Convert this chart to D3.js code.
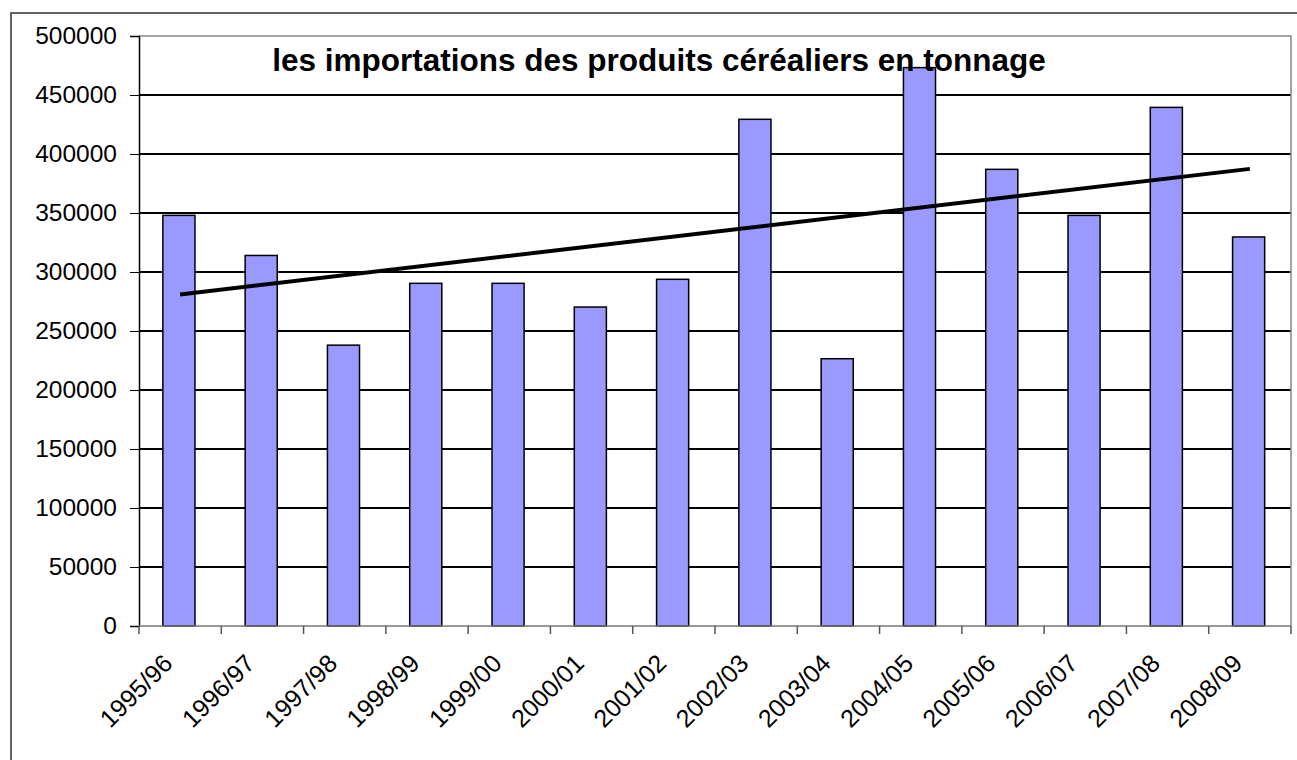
<!DOCTYPE html>
<html>
<head>
<meta charset="utf-8">
<script src="https://cdn.jsdelivr.net/npm/d3@7"></script>
<style>
  body { margin: 0; background: #fff; }
  text { font-family: "Liberation Sans", Arial, sans-serif; }
</style>
</head>
<body>
<div id="canvas"></div>
<script>
// Campagnes (categories de l'axe x)
const campagnes = ["1995/96", "1996/97", "1997/98", "1998/99", "1999/00", "2000/01", "2001/02",
  "2002/03", "2003/04", "2004/05", "2005/06", "2006/07", "2007/08", "2008/09"];

// Importations en tonnes
const importations = [348000, 314000, 238000, 290400, 290400, 270300, 293800,
  429400, 226500, 473200, 387000, 348000, 439500, 329700];

// Graduations de l'axe y
const yTicks = [0, 50000, 100000, 150000, 200000, 250000, 300000, 350000, 400000, 450000, 500000];

const titre = "les importations des produits céréaliers en tonnage";

const data = campagnes.map((c, i) => ({ name: c, value: importations[i] }));

const width = 1297;
const height = 760;
const margin = { top: 36, left: 139, bottom: 134, right: 6 };
const iwidth = width - margin.left - margin.right;
const iheight = height - margin.top - margin.bottom;

const svg = d3.select("#canvas").append("svg")
  .attr("width", width)
  .attr("height", height);

// cadre exterieur
svg.append("rect")
  .attr("x", 11).attr("y", 13)
  .attr("width", 1320).attr("height", 800)
  .attr("fill", "none")
  .attr("stroke", "#333")
  .attr("stroke-width", 1.5);

const g = svg.append("g").attr("transform", `translate(${margin.left}, ${margin.top})`);

const x = d3.scaleBand()
  .domain(campagnes)
  .range([0, iwidth])
  .padding(0);

const y = d3.scaleLinear()
  .domain([0, 500000])
  .range([iheight, 0]);

// lignes de quadrillage
g.selectAll("line.grid")
  .data(yTicks.filter(t => t > 0 && t < 500000))
  .enter().append("line")
  .attr("class", "grid")
  .attr("x1", 0).attr("x2", iwidth)
  .attr("y1", d => y(d)).attr("y2", d => y(d))
  .attr("stroke", "#000")
  .attr("stroke-width", 1.2)
  .attr("shape-rendering", "crispEdges");

// bord haut et droit de la zone de traçage
g.append("path")
  .attr("d", `M0,${y(500000)}H${iwidth}V${iheight}`)
  .attr("fill", "none")
  .attr("stroke", "#888")
  .attr("stroke-width", 1.5);

// barres
const barW = x.bandwidth() * 0.39;
g.selectAll("rect.bar")
  .data(data)
  .enter().append("rect")
  .attr("class", "bar")
  .attr("x", d => x(d.name) + x.bandwidth() * 0.29)
  .attr("y", d => y(d.value))
  .attr("width", barW)
  .attr("height", d => iheight - y(d.value))
  .attr("fill", "#9999ff")
  .attr("stroke", "#000")
  .attr("stroke-width", 1.5);

// courbe de tendance (regression lineaire)
const n = data.length;
const xs = d3.range(1, n + 1);
const mx = d3.mean(xs);
const my = d3.mean(importations);
const slope = d3.sum(xs, (xi, i) => (xi - mx) * (importations[i] - my)) / d3.sum(xs, xi => (xi - mx) ** 2);
const icpt = my - slope * mx;
const trend = [1, n].map(xi => ({ name: campagnes[xi - 1], value: icpt + slope * xi }));

g.append("path")
  .datum(trend)
  .attr("fill", "none")
  .attr("stroke", "#000")
  .attr("stroke-width", 4)
  .attr("d", d3.line()
    .x(d => x(d.name) + x.bandwidth() / 2)
    .y(d => y(d.value)));

// axe y
const yAxis = g.append("g")
  .call(d3.axisLeft(y).tickValues(yTicks).tickFormat(d3.format("d")).tickSize(9).tickPadding(13));
yAxis.select(".domain").attr("stroke", "#000").attr("stroke-width", 1.5);
yAxis.selectAll(".tick line").attr("stroke", "#000");
yAxis.selectAll("text")
  .style("font-size", "24.5px")
  .attr("fill", "#000");

// axe x
const xAxis = g.append("g")
  .attr("transform", `translate(0, ${iheight})`);
xAxis.append("line")
  .attr("x1", 0).attr("x2", iwidth)
  .attr("stroke", "#777").attr("stroke-width", 1.5);
xAxis.selectAll("line.tick")
  .data(d3.range(0, n + 1))
  .enter().append("line")
  .attr("class", "tick")
  .attr("x1", i => i * x.step()).attr("x2", i => i * x.step())
  .attr("y1", 0).attr("y2", 8)
  .attr("stroke", "#555").attr("stroke-width", 1.5);
xAxis.selectAll("text")
  .data(campagnes)
  .enter().append("text")
  .attr("text-anchor", "end")
  .style("font-size", "25px")
  .attr("transform", d => `translate(${x(d) + x.bandwidth() / 2 - 6}, 39) rotate(-45)`)
  .text(d => d);

// titre
svg.append("text")
  .attr("x", 659)
  .attr("y", 71)
  .attr("text-anchor", "middle")
  .style("font-size", "31.5px")
  .style("font-weight", "bold")
  .text(titre);
</script>
</body>
</html>
